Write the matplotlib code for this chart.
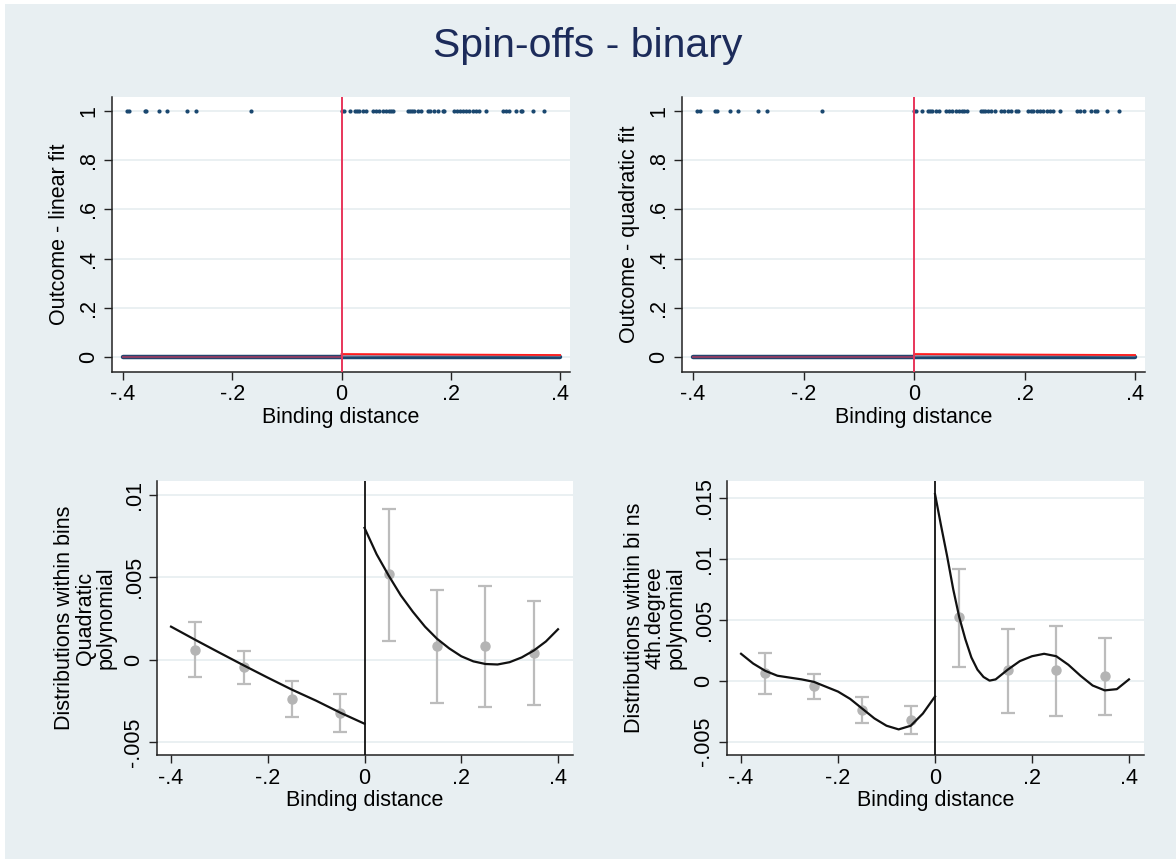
import matplotlib
matplotlib.use('Agg')
import matplotlib.pyplot as plt
from matplotlib.patches import Rectangle

plt.rcParams['font.family'] = ['Liberation Sans', 'DejaVu Sans']

# ---- data ----
# observations with outcome == 1 (binding distance)
ones_x = [-0.393, -0.388, -0.360, -0.357, -0.334, -0.319, -0.282, -0.266, -0.166,
          0.000, 0.004, 0.015, 0.025, 0.029, 0.032, 0.040, 0.045, 0.057, 0.063,
          0.069, 0.076, 0.082, 0.086, 0.091, 0.095, 0.121, 0.125, 0.129, 0.133,
          0.139, 0.146, 0.158, 0.162, 0.170, 0.176, 0.185, 0.188, 0.206, 0.211,
          0.216, 0.222, 0.228, 0.234, 0.240, 0.246, 0.252, 0.264, 0.295, 0.300,
          0.307, 0.320, 0.328, 0.331, 0.350, 0.371]
# observations with outcome == 0 cover the whole window
zeros_range = [-0.4, 0.4]

# top panels: fitted lines and CI band either side of the cutoff
fit_left_x = [-0.4, 0.0]
fit_left_y = [0.001, 0.001]
fit_right_x = [0.0, 0.1, 0.2, 0.3, 0.4]
fit_right_y = [0.012, 0.011, 0.010, 0.009, 0.008]
ci_right_lo = [0.004, 0.005, 0.005, 0.005, 0.004]
ci_right_hi = [0.019, 0.016, 0.014, 0.013, 0.012]

# bottom panels: bin means with confidence intervals
bin_x = [-0.35, -0.25, -0.15, -0.05, 0.05, 0.15, 0.25, 0.35]
bin_mean = [0.0006, -0.00045, -0.0024, -0.00324, 0.0052, 0.00084, 0.00084, 0.0004]
bin_hi = [0.00228, 0.00055, -0.00131, -0.00212, 0.00913, 0.00422, 0.00448, 0.00353]
bin_lo = [-0.00106, -0.00147, -0.00349, -0.00441, 0.00115, -0.00262, -0.00289, -0.00279]

# quadratic polynomial fit
quad_left_x = [-0.4, -0.35, -0.3, -0.25, -0.2, -0.15, -0.1, -0.05, 0.0]
quad_left_y = [0.0020, 0.0012, 0.00042, -0.00035, -0.0011, -0.00183, -0.0025, -0.00323, -0.0039]
quad_right_x = [0.0, 0.025, 0.05, 0.075, 0.1, 0.125, 0.15, 0.175, 0.2, 0.225,
                0.25, 0.275, 0.3, 0.325, 0.35, 0.375, 0.4]
quad_right_y = [0.0080, 0.0064, 0.0051, 0.0039, 0.0029, 0.0020, 0.00126, 0.00068, 0.0002,
                -0.00011, -0.00027, -0.0003, -0.00016, 0.00013, 0.00055, 0.0011, 0.00184]

# 4th degree polynomial fit
quart_left_x = [-0.4, -0.375, -0.35, -0.325, -0.3, -0.275, -0.25, -0.225, -0.2,
                -0.175, -0.15, -0.125, -0.1, -0.075, -0.05, -0.025, 0.0]
quart_left_y = [0.0022, 0.0014, 0.0008, 0.0004, 0.00025, 0.0001, -0.0001, -0.0005, -0.0009,
                -0.0015, -0.0023, -0.0031, -0.0037, -0.0040, -0.0037, -0.0027, -0.0013]
quart_right_x = [0.0, 0.0125, 0.025, 0.0375, 0.05, 0.0625, 0.075, 0.0875, 0.1, 0.1125,
                 0.125, 0.15, 0.175, 0.2, 0.225, 0.25, 0.275, 0.3, 0.325, 0.35,
                 0.375, 0.4]
quart_right_y = [0.0153, 0.0127, 0.0102, 0.0075, 0.0052, 0.0034, 0.0019, 0.0009, 0.0003, 0.0,
                 0.0001, 0.0009, 0.0016, 0.0020, 0.0022, 0.0020, 0.0013, 0.0004, -0.0004, -0.0008,
                 -0.0007, 0.0001]

xticks = [-0.4, -0.2, 0.0, 0.2, 0.4]
xtick_labels = ['-.4', '-.2', '0', '.2', '.4']
top_yticks = [0, 0.2, 0.4, 0.6, 0.8, 1.0]
top_ytick_labels = ['0', '.2', '.4', '.6', '.8', '1']
bl_yticks = [-0.005, 0, 0.005, 0.01]
bl_ytick_labels = ['-.005', '0', '.005', '.01']
br_yticks = [-0.005, 0, 0.005, 0.01, 0.015]
br_ytick_labels = ['-.005', '0', '.005', '.01', '.015']

BG = '#e8eff2'
GRID = '#e6eef0'
NAVY = '#1a476f'
RED = '#e8355a'
FS = 15.5

fig = plt.figure(figsize=(11.76, 8.59), dpi=100, facecolor='white')
fig.patches.append(Rectangle((5 / 1176, 0), 1 - 5 / 1176, 1 - 4 / 859,
                             transform=fig.transFigure, facecolor=BG, edgecolor='none', zorder=-10))
fig.text(0.5, 0.947, 'Spin-offs - binary', ha='center', va='center', fontsize=29.5, color='#1c2b5a')


def style(ax, yticks, ylabels, ylabel, ylim, xlim, ylabelpad):
    ax.set_facecolor('white')
    for s in ('top', 'right'):
        ax.spines[s].set_visible(False)
    for s in ('left', 'bottom'):
        ax.spines[s].set_color('#222222')
        ax.spines[s].set_linewidth(1.1)
    ax.set_xlim(xlim)
    ax.set_ylim(ylim)
    ax.set_xticks(xticks)
    ax.set_xticklabels(xtick_labels, fontsize=FS)
    ax.set_yticks(yticks)
    ax.set_yticklabels(ylabels, fontsize=FS, rotation=90, va='center')
    ax.tick_params(direction='out', length=6, width=1.0, color='#222222', pad=3)
    ax.yaxis.grid(True, color=GRID, linewidth=1.2)
    ax.set_axisbelow(True)
    ax.set_xlabel('Binding distance', fontsize=FS, labelpad=1)
    ax.set_ylabel(ylabel, fontsize=FS, labelpad=ylabelpad, linespacing=1.0)


def top_panel(rect, ylabel):
    ax = fig.add_axes(rect)
    style(ax, top_yticks, top_ytick_labels, ylabel, (-0.061, 1.057), (-0.42, 0.418), 6)
    ax.plot(zeros_range, [0, 0], color=NAVY, linewidth=3.2, solid_capstyle='round', zorder=3)
    ax.scatter(ones_x, [1] * len(ones_x), s=9, color=NAVY, zorder=3, linewidths=0)
    ax.fill_between(fit_right_x, ci_right_lo, ci_right_hi, color='#f6c2cb', alpha=0.6,
                    linewidth=0, zorder=4)
    ax.plot(fit_left_x, fit_left_y, color=RED, linewidth=1.6, alpha=0.55, zorder=5)
    ax.plot(fit_right_x, fit_right_y, color='#ff1a1a', linewidth=1.3, zorder=5)
    ax.axvline(0, color=RED, linewidth=1.4, zorder=6)
    return ax


def bottom_panel(rect, yticks, ylabels, ylabel, ylim, lx, ly, rx, ry):
    ax = fig.add_axes(rect)
    style(ax, yticks, ylabels, ylabel, ylim, (-0.429, 0.431), 5)
    yerr = [[m - lo for m, lo in zip(bin_mean, bin_lo)], [hi - m for m, hi in zip(bin_mean, bin_hi)]]
    ax.errorbar(bin_x, bin_mean, yerr=yerr, fmt='o', color='#b4b4b4', ecolor='#bcbcbc',
                elinewidth=1.6, capsize=5, capthick=1.6, markersize=6.5, zorder=3)
    ax.plot(lx, ly, color='#111111', linewidth=1.6, zorder=4)
    ax.plot(rx, ry, color='#111111', linewidth=1.6, zorder=4)
    ax.axvline(0, color='#111111', linewidth=1.3, zorder=5)
    return ax


top_panel([112 / 1176, 487 / 859, 458 / 1176, 275 / 859], 'Outcome - linear fit')
top_panel([682 / 1176, 487 / 859, 463 / 1176, 275 / 859], 'Outcome - quadratic fit')

bottom_panel([157 / 1176, 104 / 859, 416 / 1176, 274 / 859], bl_yticks, bl_ytick_labels,
             'Distributions within bins\nQuadratic\npolynomial', (-0.0058, 0.01085),
             quad_left_x, quad_left_y, quad_right_x, quad_right_y)
bottom_panel([727 / 1176, 104 / 859, 417 / 1176, 274 / 859], br_yticks, br_ytick_labels,
             'Distributions within bi ns\n4th.degree\npolynomial', (-0.0061, 0.01637),
             quart_left_x, quart_left_y, quart_right_x, quart_right_y)

fig.savefig('out.png', dpi=100, facecolor=fig.get_facecolor())
